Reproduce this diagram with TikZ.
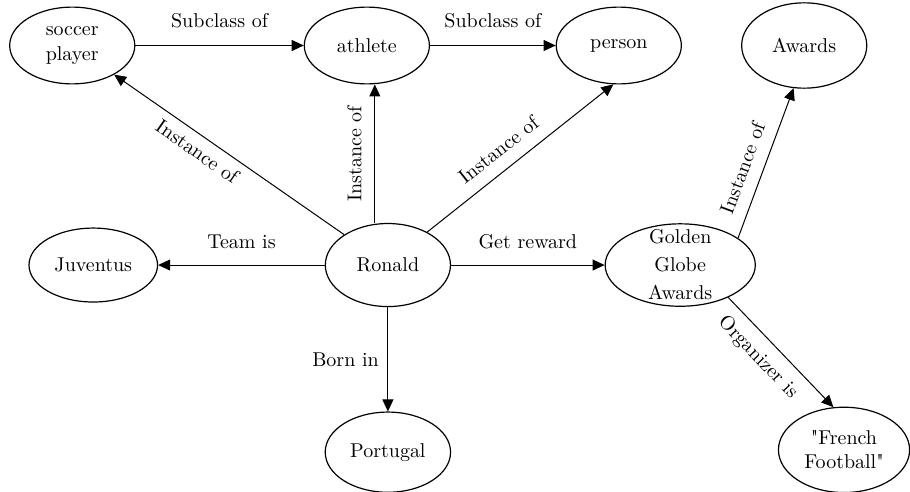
\documentclass[tikz,border=0pt]{standalone}
\usepackage{tikz}
\usetikzlibrary{arrows.meta, shapes.geometric}

\begin{document}
\begin{tikzpicture}[
    entity/.style={draw, ellipse, align=center, line width=0.6pt, minimum width=2.2cm, minimum height=1.35cm},
    rel/.style={-{Triangle[length=6pt, width=5.5pt]}, line width=0.5pt}
  ]
  \useasboundingbox (0,0) rectangle (16,8.65);

  % Classes
  \node[entity] (soccer) at (1.27,7.85) {soccer\\[0.5pt]player};
  \node[entity] (athlete) at (6.45,7.85) {athlete};
  \node[entity] (person) at (10.88,7.85) {person};
  \node[entity, minimum height=1.5cm] (awards) at (14.14,7.85) {Awards};

  % Instances
  \node[entity, minimum height=1.3cm] (juventus) at (1.64,3.99) {Juventus};
  \node[entity, minimum height=1.46cm] (ronald) at (6.82,3.99) {Ronald};
  \node[entity, minimum width=2.64cm, minimum height=1.4cm, inner ysep=-3pt] (golden) at (11.96,3.99) {Golden\\[2pt]Globe\\[2pt]Awards};
  \node[entity, minimum height=1.41cm] (portugal) at (6.82,0.7) {Portugal};
  \node[entity, minimum width=2.3cm, minimum height=1.5cm] (french) at (14.84,0.74) {\textquotedbl French\\Football\textquotedbl};

  % Subclass relations
  \draw[rel] (soccer) -- node[above=5pt] {Subclass of} (athlete);
  \draw[rel] (athlete) -- node[above=5pt] {Subclass of} (person);

  % Relations of Ronald
  \draw[rel] (ronald) -- node[pos=0.6, sloped, below=0.5pt] {Instance of} (soccer);
  \draw[rel] ([xshift=-0.23cm]ronald.north) -- ([xshift=-0.23cm]ronald.north |- athlete.south) node[midway, sloped, above=3pt] {Instance of};
  \draw[rel] (ronald.40) -- node[pos=0.45, sloped, above=3pt] {Instance of} (person.262);
  \draw[rel] (ronald) -- node[above=4.5pt] {Team is} (juventus);
  \draw[rel] (ronald) -- node[above=4.5pt] {Get reward} (golden);
  \draw[rel] (ronald) -- node[left=1pt] {Born in} (portugal);

  % Relations of the award
  \draw[rel] (golden.25) -- node[pos=0.42, sloped, above=3pt] {Instance of} (awards.256);
  \draw[rel] (golden.326) -- node[pos=0.42, sloped, below=2pt] {Organizer is} (french.104);
\end{tikzpicture}
\end{document}
